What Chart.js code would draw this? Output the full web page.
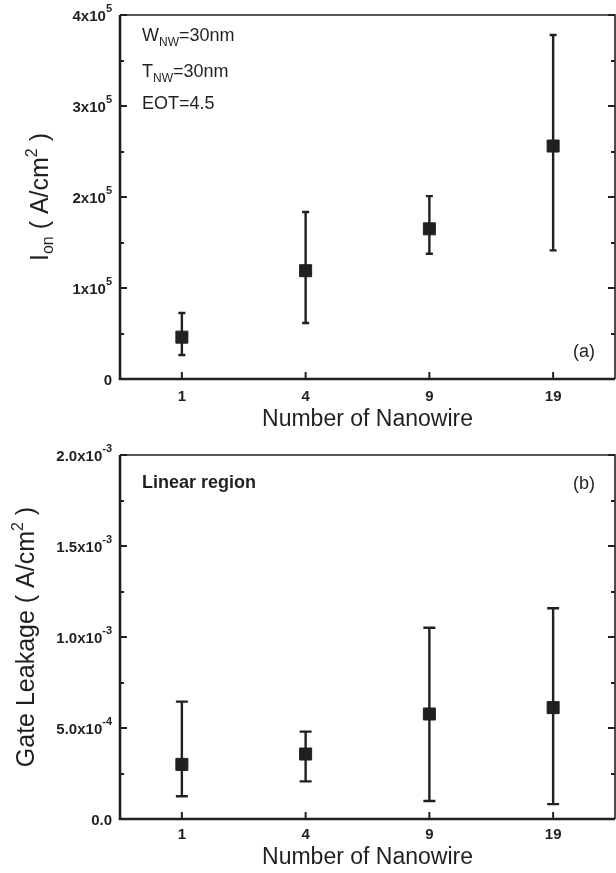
<!DOCTYPE html>
<html lang="en">
<head>
<meta charset="utf-8" />
<title>Ion and gate leakage vs number of nanowires</title>
<script src="https://cdn.jsdelivr.net/npm/chart.js@4.4.1/dist/chart.umd.min.js"></script>
<style>
    body { margin: 0; background: #fff; }
    #wrap { position: relative; width: 616px; height: 873px; }
    canvas { position: absolute; left: 0; }
</style>
</head>
<body>
<div id="wrap">
    <canvas id="ion" width="616" height="437" style="top:0"></canvas>
    <canvas id="leak" width="616" height="436" style="top:437px"></canvas>
</div>
<script>
    // data
    const categories = ['1', '4', '9', '19'];

    const ionMean = [0.46e5, 1.19e5, 1.65e5, 2.56e5];
    const ionHigh = [0.725e5, 1.835e5, 2.01e5, 3.78e5];
    const ionLow = [0.264e5, 0.615e5, 1.377e5, 1.414e5];

    const leakMean = [0.30e-3, 0.357e-3, 0.577e-3, 0.612e-3];
    const leakHigh = [0.645e-3, 0.48e-3, 1.051e-3, 1.158e-3];
    const leakLow = [0.125e-3, 0.207e-3, 0.099e-3, 0.082e-3];

    // tick labels: [mantissa, exponent]
    const ionTickLabels = [['0', ''], ['1x10', '5'], ['2x10', '5'], ['3x10', '5'], ['4x10', '5']];
    const leakTickLabels = [['0.0', ''], ['5.0x10', '-4'], ['1.0x10', '-3'], ['1.5x10', '-3'], ['2.0x10', '-3']];

    const INK = '#231f20';
    const FONT = 'Arial, "Liberation Sans", Helvetica, sans-serif';
    Chart.defaults.font.family = FONT;

    // draw a run of text pieces (sub/superscripts), left to right from x
    function richWidth(ctx, parts) {
        let w = 0;
        parts.forEach(p => {
            ctx.font = (p.bold ? 'bold ' : '') + p.size + 'px ' + FONT;
            w += ctx.measureText(p.t).width;
        });
        return w;
    }
    function drawRich(ctx, parts, x, y) {
        ctx.textAlign = 'left';
        ctx.textBaseline = 'alphabetic';
        parts.forEach(p => {
            ctx.font = (p.bold ? 'bold ' : '') + p.size + 'px ' + FONT;
            ctx.fillText(p.t, x, y + (p.dy || 0));
            x += ctx.measureText(p.t).width;
        });
    }

    const errorBars = {
        id: 'errorBars',
        beforeDatasetsDraw(chart, args, opts) {
            const { ctx, scales: { x, y } } = chart;
            ctx.save();
            ctx.strokeStyle = INK;
            ctx.lineWidth = 2.4;
            opts.low.forEach((lo, i) => {
                const px = x.getPixelForValue(i);
                const pl = y.getPixelForValue(lo);
                const ph = y.getPixelForValue(opts.high[i]);
                ctx.beginPath();
                ctx.moveTo(px, pl); ctx.lineTo(px, ph);
                ctx.moveTo(px - opts.cap, pl); ctx.lineTo(px + opts.cap, pl);
                ctx.moveTo(px - opts.cap, ph); ctx.lineTo(px + opts.cap, ph);
                ctx.stroke();
            });
            ctx.restore();
        }
    };

    const frame = {
        id: 'frame',
        afterDraw(chart, args, opts) {
            const { ctx, chartArea: a, scales: { x, y } } = chart;
            ctx.save();
            ctx.strokeStyle = INK;
            ctx.fillStyle = INK;

            // thin top/right, heavier left/bottom like the original
            ctx.lineWidth = 1.6;
            ctx.beginPath();
            ctx.moveTo(a.left, a.top); ctx.lineTo(a.right, a.top); ctx.lineTo(a.right, a.bottom);
            ctx.stroke();
            ctx.lineWidth = 2.6;
            ctx.beginPath();
            ctx.moveTo(a.left, a.top); ctx.lineTo(a.left, a.bottom); ctx.lineTo(a.right, a.bottom);
            ctx.stroke();

            // y ticks, inward on both sides, every other one is major
            ctx.lineWidth = 2;
            ctx.beginPath();
            y.ticks.forEach((t, i) => {
                const py = Math.round(y.getPixelForValue(t.value));
                const len = i % 2 === 0 ? 7 : 4;
                ctx.moveTo(a.left, py); ctx.lineTo(a.left + len, py);
                ctx.moveTo(a.right, py); ctx.lineTo(a.right - len, py);
            });
            // x ticks inward at the bottom
            categories.forEach((c, i) => {
                const px = x.getPixelForValue(i);
                ctx.moveTo(px, a.bottom); ctx.lineTo(px, a.bottom - 7);
            });
            ctx.stroke();

            // y tick labels
            y.ticks.filter((t, i) => i % 2 === 0).forEach((t, i) => {
                const lab = opts.tickLabels[i];
                const py = y.getPixelForValue(t.value);
                let xr = a.left - 8;
                ctx.textAlign = 'right';
                if (lab[1]) {
                    ctx.font = 'bold 11px ' + FONT;
                    ctx.textBaseline = 'alphabetic';
                    ctx.fillText(lab[1], xr, py - 3);
                    xr -= ctx.measureText(lab[1]).width;
                }
                ctx.font = 'bold 15px ' + FONT;
                ctx.textBaseline = 'middle';
                ctx.fillText(lab[0], xr, py + 2);
            });

            // x tick labels and title
            ctx.textAlign = 'center';
            ctx.textBaseline = 'middle';
            ctx.font = 'bold 15px ' + FONT;
            categories.forEach((c, i) => {
                ctx.fillText(c, x.getPixelForValue(i), a.bottom + opts.xLabelGap);
            });
            ctx.font = '23px ' + FONT;
            ctx.fillText('Number of Nanowire', (a.left + a.right) / 2, a.bottom + opts.xTitleGap);

            // rotated y title
            ctx.save();
            ctx.translate(opts.yTitleX, (a.top + a.bottom) / 2);
            ctx.rotate(-Math.PI / 2);
            const w = richWidth(ctx, opts.yTitle);
            drawRich(ctx, opts.yTitle, -w / 2, 0);
            ctx.restore();

            // annotations
            opts.notes.forEach(n => {
                if (n.center) {
                    const nw = richWidth(ctx, n.parts);
                    drawRich(ctx, n.parts, n.x - nw / 2, n.y);
                } else {
                    drawRich(ctx, n.parts, n.x, n.y);
                }
            });
            ctx.restore();
        }
    };

    function makePanel(id, mean, low, high, yMax, yStep, tickLabels, cap, padTop, xHeight, extra) {
        return new Chart(document.getElementById(id), {
            type: 'line',
            data: {
                labels: categories,
                datasets: [{
                    data: mean,
                    showLine: false,
                    pointStyle: 'rect',
                    pointRadius: 8.5,
                    pointBorderWidth: 1,
                    pointBackgroundColor: INK,
                    pointBorderColor: INK
                }]
            },
            options: {
                responsive: false,
                animation: false,
                devicePixelRatio: 1,
                layout: { autoPadding: false, padding: { top: padTop, right: 1, left: 0, bottom: 0 } },
                scales: {
                    x: {
                        type: 'category',
                        offset: true,
                        grid: { display: false, drawTicks: false },
                        border: { display: false },
                        ticks: { display: false },
                        afterFit: s => { s.height = xHeight; }
                    },
                    y: {
                        min: 0,
                        max: yMax,
                        grid: { display: false, drawTicks: false },
                        border: { display: false },
                        ticks: { display: false, stepSize: yStep },
                        afterFit: s => { s.width = 120; }
                    }
                },
                plugins: {
                    legend: { display: false },
                    tooltip: { enabled: false },
                    errorBars: { low: low, high: high, cap: cap },
                    frame: Object.assign({ tickLabels: tickLabels }, extra)
                }
            },
            plugins: [errorBars, frame]
        });
    }

    makePanel('ion', ionMean, ionLow, ionHigh, 4e5, 0.5e5, ionTickLabels, 3.5, 15, 58, {
        xLabelGap: 18,
        xTitleGap: 41,
        yTitleX: 48,
        yTitle: [
            { t: 'I', size: 25 },
            { t: 'on', size: 16, dy: 5 },
            { t: ' ( A/cm', size: 25 },
            { t: '2', size: 16, dy: -11 },
            { t: ' )', size: 25 }
        ],
        notes: [
            { x: 142, y: 41, parts: [{ t: 'W', size: 18 }, { t: 'NW', size: 12, dy: 5 }, { t: '=30nm', size: 18 }] },
            { x: 142, y: 77, parts: [{ t: 'T', size: 18 }, { t: 'NW', size: 12, dy: 5 }, { t: '=30nm', size: 18 }] },
            { x: 142, y: 109, parts: [{ t: 'EOT=4.5', size: 18 }] },
            { x: 584, y: 357, center: true, parts: [{ t: '(a)', size: 18 }] }
        ]
    });

    makePanel('leak', leakMean, leakLow, leakHigh, 2e-3, 2.5e-4, leakTickLabels, 6, 18, 54, {
        xLabelGap: 16,
        xTitleGap: 39,
        yTitleX: 34,
        yTitle: [
            { t: 'Gate Leakage ( A/cm', size: 25 },
            { t: '2', size: 16, dy: -11 },
            { t: ' )', size: 25 }
        ],
        notes: [
            { x: 142, y: 51, parts: [{ t: 'Linear region', size: 18, bold: true }] },
            { x: 584, y: 52, center: true, parts: [{ t: '(b)', size: 18 }] }
        ]
    });
</script>
</body>
</html>
